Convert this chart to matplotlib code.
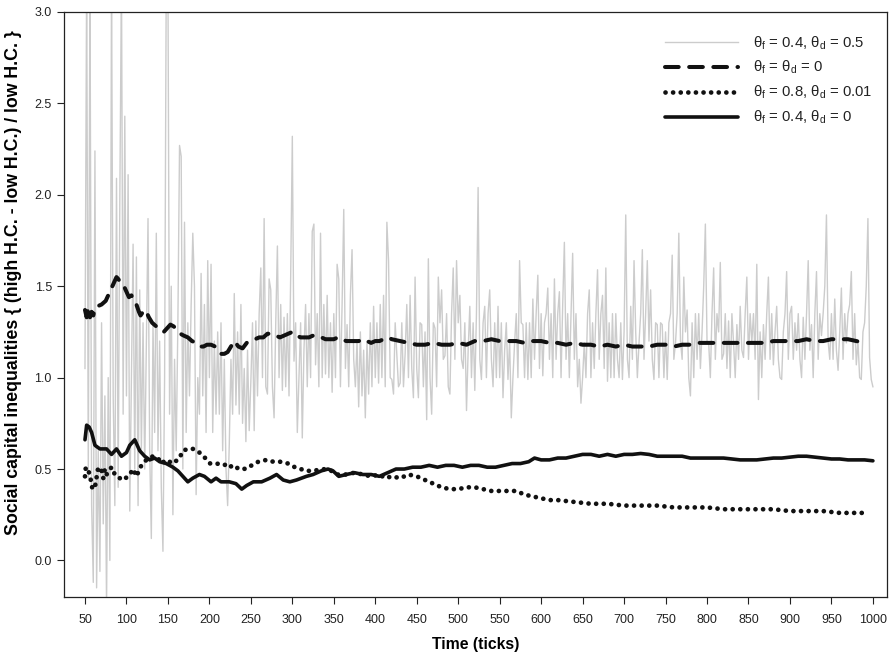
import numpy as np
import matplotlib
matplotlib.use("Agg")
import matplotlib.pyplot as plt

plt.rcParams['font.family'] = ['Liberation Sans', 'DejaVu Sans']
plt.rcParams['mathtext.fontset'] = 'custom'
plt.rcParams['mathtext.rm'] = 'Liberation Sans'
plt.rcParams['mathtext.it'] = 'Liberation Sans'

# ---------------- data ----------------
gray_x = list(range(50, 1001, 2))
gray_y = [
    1.05, 3.2, 0.45, 3.2, 0.3, -0.12, 2.24, -0.15, 0.6, -0.06,
    1.3, 0.2, 0.9, -0.25, 1.0, 0.0, 3.2, 0.9, 0.3, 2.09,
    0.4, 1.97, 3.2, 0.8, 2.43, 0.9, 2.11, 0.27, 1.0, 1.73,
    0.5, 1.66, 0.3, 1.48, 0.6, 1.3, 0.5, 1.2, 1.87, 0.6,
    0.12, 1.3, 0.7, 1.79, 0.6, 1.2, 0.4, 0.05, 1.0, 3.2,
    3.2, 0.8, 1.5, 0.25, 1.1, 0.6, 1.3, 2.27, 2.21, 0.5,
    1.85, 0.7, 1.3, 0.9, 1.4, 1.79, 1.5, 0.36, 1.0, 0.8,
    1.57, 0.9, 1.4, 0.7, 1.64, 1.0, 1.62, 0.7, 1.2, 0.8,
    1.25, 0.8, 1.3, 0.6, 1.1, 0.5, 0.3, 0.64, 1.1, 0.8,
    1.46, 0.85, 1.25, 0.8, 1.40, 0.75, 1.05, 0.65, 1.15, 0.71,
    0.98, 1.3, 0.71, 1.31, 0.9, 1.35, 1.6, 1.0, 1.87, 0.95,
    0.91, 1.54, 1.48, 0.95, 0.78, 1.3, 1.72, 1.0, 1.4, 0.93,
    1.33, 0.95, 1.35, 0.9, 1.55, 2.32, 1.09, 1.3, 0.70, 1.0,
    1.3, 0.67, 1.15, 1.40, 0.95, 1.35, 1.0, 1.8, 1.84, 1.07,
    1.35, 0.95, 1.79, 1.0, 1.4, 1.02, 1.45, 1.0, 1.3, 0.92,
    1.35, 1.0, 1.62, 1.54, 0.95, 1.4, 1.92, 1.05, 1.29, 0.95,
    1.45, 1.70, 1.1, 0.95, 1.2, 0.84, 1.25, 0.9, 1.15, 0.78,
    1.2, 0.91, 1.3, 0.95, 1.39, 1.0, 1.3, 0.97, 1.4, 1.0,
    1.45, 0.95, 1.85, 1.64, 1.0, 0.99, 0.91, 1.3, 1.13, 0.95,
    0.97, 1.3, 0.95, 1.13, 1.4, 1.0, 1.45, 1.05, 0.89, 1.55,
    1.05, 0.89, 1.3, 1.29, 0.95, 1.25, 0.77, 1.65, 1.0, 0.80,
    1.3, 1.27, 0.95, 1.55, 1.3, 1.48, 1.1, 1.12, 1.35, 0.95,
    0.91, 1.35, 1.60, 1.1, 1.64, 1.3, 1.45, 1.1, 1.05, 1.3,
    0.82, 1.15, 1.39, 1.0, 1.3, 0.93, 1.35, 2.04, 1.1, 0.99,
    1.3, 1.39, 1.0, 1.35, 1.48, 1.1, 0.95, 1.3, 1.0, 1.39,
    1.0, 1.3, 0.89, 1.15, 1.3, 0.99, 1.2, 0.78, 1.0, 1.19,
    1.35, 1.0, 1.64, 1.3, 1.29, 1.0, 1.3, 0.99, 1.3, 1.0,
    1.43, 1.1, 1.35, 1.56, 1.05, 1.35, 1.01, 1.3, 1.35, 1.49,
    1.1, 1.35, 1.0, 1.54, 1.1, 1.35, 1.47, 1.0, 1.4, 1.74,
    1.1, 1.35, 1.0, 1.35, 1.68, 1.1, 1.35, 0.95, 1.1, 0.86,
    1.0, 1.19, 1.0, 1.35, 1.48, 1.0, 1.3, 1.05, 1.35, 1.59,
    1.1, 1.35, 1.45, 1.05, 1.60, 0.98, 1.3, 1.0, 1.35, 1.0,
    1.35, 1.1, 1.0, 1.3, 0.99, 1.25, 1.89, 1.1, 1.0, 1.39,
    1.1, 1.64, 1.25, 1.0, 1.19, 1.35, 1.70, 1.1, 1.35, 1.64,
    1.2, 1.48, 1.1, 0.99, 1.3, 1.29, 1.0, 1.3, 1.29, 1.0,
    1.25, 0.99, 1.3, 1.35, 1.67, 1.1, 1.19, 1.35, 1.79, 1.2,
    1.1, 1.55, 1.25, 1.37, 1.0, 0.90, 1.3, 1.0, 1.35, 1.1,
    1.35, 1.05, 1.25, 1.5, 1.84, 1.2, 1.19, 1.0, 1.35, 1.60,
    1.1, 1.35, 1.25, 1.63, 1.1, 1.13, 1.35, 1.05, 1.31, 1.0,
    1.35, 1.19, 1.0, 1.29, 1.1, 1.39, 1.15, 1.11, 1.35, 1.55,
    1.1, 1.35, 1.19, 1.35, 1.1, 1.62, 0.88, 1.25, 1.0, 1.29,
    1.1, 1.35, 1.55, 1.1, 1.35, 1.07, 1.25, 1.39, 1.1, 1.0,
    0.99, 1.25, 1.35, 1.58, 1.1, 1.35, 1.39, 1.1, 1.3, 1.15,
    1.35, 1.1, 1.0, 1.33, 1.1, 1.35, 1.64, 1.15, 1.29, 1.0,
    1.35, 1.58, 1.1, 1.35, 1.23, 1.35, 1.5, 1.89, 1.2, 1.1,
    1.35, 1.1, 1.43, 1.15, 1.04, 1.25, 1.49, 1.1, 1.35, 1.19,
    1.35, 1.4, 1.58, 1.1, 1.35, 1.07, 1.2, 1.0, 0.99, 1.25,
    1.3, 1.5, 1.87, 1.11, 0.99, 0.95,
]

dashed_x = [50, 52, 54, 56, 58, 60, 62, 65, 70, 75, 80, 85, 88, 90, 93, 96, 100, 103, 106, 109,
            112, 115, 117, 120, 123, 127, 131, 136, 141, 145, 149, 153, 157, 161, 165, 169, 174,
            179, 184, 189, 193, 197, 202, 207, 211, 214, 218, 222, 226,
            230, 235, 240, 245, 250, 255, 260, 265, 270, 275, 280, 285, 290, 295, 300, 305, 310,
            315, 320, 325, 330, 335, 340, 345, 350, 355, 360, 365, 370, 375, 380, 385, 390, 395,
            400, 405, 410, 415, 420,
            430, 440, 450, 460, 470, 480, 490, 500, 510, 520, 530, 540, 550, 560, 570, 580, 590,
            600, 610, 620, 630, 640, 650, 660, 670, 680, 690, 700, 710, 720, 730, 740, 750, 760,
            770, 780, 790, 800, 810, 820, 830, 840, 850, 860, 870, 880, 890, 900, 910, 920, 930,
            940, 950, 960, 970, 980, 990, 992]
dashed_y = [1.37, 1.33, 1.38, 1.33, 1.36, 1.34, 1.38, 1.39, 1.40, 1.42, 1.47, 1.52, 1.55, 1.54,
            1.52, 1.51, 1.47, 1.44, 1.45, 1.42, 1.40, 1.36, 1.34, 1.36, 1.37, 1.33, 1.30, 1.28,
            1.26, 1.25, 1.27, 1.29, 1.28, 1.26, 1.24, 1.23, 1.22, 1.20, 1.19, 1.17, 1.17, 1.18,
            1.18, 1.17, 1.15, 1.13, 1.13, 1.14, 1.17,
            1.20, 1.17, 1.16, 1.19, 1.20, 1.21, 1.22, 1.22, 1.24, 1.24, 1.23, 1.22, 1.23, 1.24,
            1.25, 1.23, 1.22, 1.22, 1.22, 1.23, 1.22, 1.22, 1.21, 1.21, 1.21, 1.22, 1.21, 1.20,
            1.20, 1.20, 1.20, 1.21, 1.20, 1.19, 1.20, 1.20, 1.21, 1.22, 1.21,
            1.20, 1.19, 1.18, 1.18, 1.19, 1.18, 1.18, 1.19, 1.18, 1.20, 1.20, 1.21, 1.20, 1.20,
            1.20, 1.19, 1.20, 1.20, 1.19, 1.19, 1.18, 1.19, 1.18, 1.18, 1.17, 1.18, 1.17, 1.18,
            1.17, 1.17, 1.17, 1.18, 1.18, 1.17, 1.18, 1.18, 1.19, 1.19, 1.19, 1.19, 1.19, 1.19,
            1.19, 1.19, 1.19, 1.20, 1.20, 1.20, 1.20, 1.21, 1.20, 1.20, 1.21, 1.21, 1.21, 1.20,
            1.19, 1.19]

dotted_x = [50, 51, 55, 57, 59, 62, 66, 70, 72, 74, 76, 79, 82, 86, 90, 94, 99, 104, 108, 112,
            118, 124, 132, 138, 142, 148, 156, 164, 168, 174, 181, 188, 195, 201, 209, 217, 223,
            229, 237, 243, 251, 259, 269, 277, 285, 295, 303, 310, 317, 325, 337, 347, 355, 365,
            375, 385, 395, 405, 412, 420, 430, 440, 450, 460, 470, 480, 490, 500, 510, 520, 530,
            540, 550, 560, 570, 580, 590, 600, 610, 620, 640, 660, 680, 700, 720, 740, 760, 780,
            800, 820, 840, 860, 880, 900, 920, 940, 960, 980, 990]
dotted_y = [0.46, 0.51, 0.48, 0.44, 0.39, 0.40, 0.51, 0.49, 0.45, 0.50, 0.47, 0.49, 0.51, 0.47,
            0.46, 0.44, 0.45, 0.47, 0.50, 0.46, 0.52, 0.55, 0.57, 0.56, 0.53, 0.55, 0.53, 0.56,
            0.60, 0.61, 0.61, 0.59, 0.56, 0.53, 0.53, 0.52, 0.53, 0.50, 0.51, 0.50, 0.52, 0.54,
            0.55, 0.54, 0.54, 0.53, 0.51, 0.50, 0.49, 0.49, 0.50, 0.49, 0.47, 0.47, 0.48, 0.47,
            0.46, 0.47, 0.45, 0.46, 0.45, 0.47, 0.46, 0.44, 0.42, 0.40, 0.39, 0.39, 0.40, 0.40,
            0.39, 0.38, 0.38, 0.38, 0.38, 0.36, 0.35, 0.34, 0.33, 0.33, 0.32, 0.31, 0.31, 0.30,
            0.30, 0.30, 0.29, 0.29, 0.29, 0.28, 0.28, 0.28, 0.28, 0.27, 0.27, 0.27, 0.26, 0.26,
            0.26]

solid_x = [50, 52, 55, 58, 62, 68, 76, 82, 88, 94, 100, 104, 110, 112, 116, 122, 128, 134, 140,
           148, 156, 162, 168, 174, 180, 188, 194, 202, 208, 214, 224, 232, 239, 245, 253, 263,
           273, 281, 289, 297, 305, 317, 325, 335, 343, 349, 356, 365, 375, 385, 395, 405, 415,
           425, 435, 445, 455, 465, 475, 485, 495, 505, 515, 525, 535, 545, 555, 565, 575, 585,
           592, 600, 610, 620, 630, 640, 650, 660, 670, 680, 690, 700, 710, 720, 730, 740, 750,
           760, 770, 780, 790, 800, 810, 820, 830, 840, 850, 860, 870, 880, 890, 900, 910, 920,
           930, 940, 950, 960, 970, 980, 990, 1000]
solid_y = [0.66, 0.74, 0.73, 0.70, 0.63, 0.61, 0.61, 0.58, 0.61, 0.57, 0.59, 0.63, 0.66, 0.64,
           0.60, 0.57, 0.55, 0.56, 0.54, 0.53, 0.51, 0.49, 0.46, 0.43, 0.45, 0.47, 0.46, 0.43,
           0.45, 0.43, 0.43, 0.42, 0.39, 0.41, 0.43, 0.43, 0.45, 0.47, 0.44, 0.43, 0.44, 0.46,
           0.47, 0.49, 0.50, 0.49, 0.46, 0.47, 0.48, 0.47, 0.47, 0.46, 0.48, 0.50, 0.50, 0.51,
           0.51, 0.52, 0.51, 0.52, 0.52, 0.51, 0.52, 0.52, 0.51, 0.51, 0.52, 0.53, 0.53, 0.54,
           0.56, 0.55, 0.55, 0.56, 0.56, 0.57, 0.58, 0.58, 0.57, 0.58, 0.57, 0.58, 0.58, 0.585,
           0.58, 0.57, 0.57, 0.57, 0.57, 0.56, 0.56, 0.56, 0.56, 0.56, 0.555, 0.55, 0.55, 0.55,
           0.555, 0.56, 0.56, 0.565, 0.57, 0.57, 0.565, 0.56, 0.555, 0.555, 0.55, 0.55, 0.55,
           0.545]

labels = [r'$\mathregular{\theta_f}$ = 0.4, $\mathregular{\theta_d}$ = 0.5',
          r'$\mathregular{\theta_f}$ = $\mathregular{\theta_d}$ = 0',
          r'$\mathregular{\theta_f}$ = 0.8, $\mathregular{\theta_d}$ = 0.01',
          r'$\mathregular{\theta_f}$ = 0.4, $\mathregular{\theta_d}$ = 0']
x_ticks = list(range(50, 1001, 50))
y_ticks = [0.0, 0.5, 1.0, 1.5, 2.0, 2.5, 3.0]

# ---------------- figure ----------------
fig = plt.figure(figsize=(8.93, 6.56), dpi=100)
ax = fig.add_axes([64 / 893, 1 - 597 / 656, (887 - 64) / 893, (597 - 12) / 656])

ax.plot(gray_x, gray_y, color='#cccccc', lw=1.0, label=labels[0], zorder=1)
ax.plot(dashed_x, dashed_y, color='#111111', lw=2.9, linestyle=(0, (3.4, 2.6)),
        dash_capstyle='round', solid_joinstyle='round', label=labels[1], zorder=3)
ax.plot(dotted_x, dotted_y, color='#111111', lw=3.4, linestyle=(0, (0.01, 1.6)),
        dash_capstyle='round', label=labels[2], zorder=3)
ax.plot(solid_x, solid_y, color='#111111', lw=2.6, solid_capstyle='round',
        solid_joinstyle='round', label=labels[3], zorder=3)

ax.set_xlim(24.7, 1017)
ax.set_ylim(-0.2, 3.0)
ax.set_xticks(x_ticks)
ax.set_xticklabels([str(v) for v in x_ticks])
ax.set_yticks(y_ticks)
ax.set_yticklabels(['%.1f' % v for v in y_ticks])
ax.tick_params(axis='both', direction='out', length=5.2, width=0.8, labelsize=9,
               colors='#222222')
ax.tick_params(axis='y', pad=3.5)
ax.tick_params(axis='x', pad=7)
for s in ax.spines.values():
    s.set_linewidth(0.9)
    s.set_color('#222222')

ax.set_xlabel('Time (ticks)', fontsize=11.3, fontweight='bold', labelpad=8)
ax.set_ylabel('Social capital inequalities { (high H.C. - low H.C.) / low H.C. }',
              fontsize=12.8, fontweight='bold')
ax.yaxis.set_label_coords(-0.051, 0.538)

leg = ax.legend(loc='upper left', bbox_to_anchor=(0.7303, 0.962), frameon=False,
                fontsize=10.7, handlelength=4.9, handletextpad=1.0, labelspacing=0.50,
                borderpad=0, borderaxespad=0)
for t in leg.get_texts():
    t.set_color('#222222')

fig.savefig('out.png', dpi=100)
